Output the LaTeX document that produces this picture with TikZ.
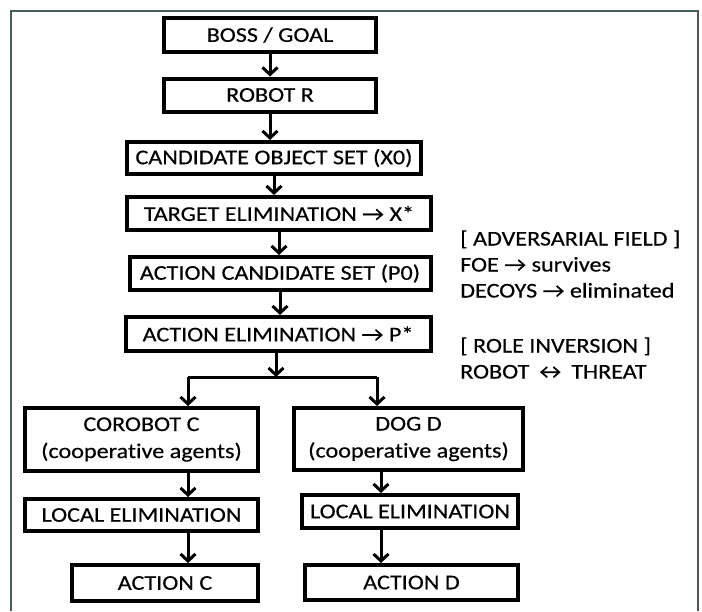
\documentclass[tikz,border=0pt]{standalone}
\usepackage{fontspec}
\setmainfont[FakeStretch=1.15, FakeBold=0.4, Ligatures=CommonOff]{Carlito}
\usetikzlibrary{arrows.meta}
\definecolor{framegray}{RGB}{74,92,86}

\begin{document}
\begin{tikzpicture}[x=1pt, y=-1pt,
	box/.style={draw, line width=4pt, inner sep=0pt, align=center, font=\fontsize{21}{27}\selectfont},
	arr/.style={line width=3pt, -{Straight Barb[length=7pt,width=15pt]}},
	note/.style={anchor=west, align=left, inner sep=0pt, font=\fontsize{21}{26}\selectfont},
	frame/.style={draw=framegray, line width=2pt}]
	\useasboundingbox (0,0) rectangle (702,611);
	\draw[frame] (11,611) -- (11,11) -- (698,11) -- (698,611);

	\node[box, minimum width=212pt, minimum height=34pt] (boss) at (270,35) {BOSS / GOAL};
	\node[box, minimum width=212pt, minimum height=33pt] (robot) at (270,95) {ROBOT R};
	\node[box, minimum width=294pt, minimum height=32pt] (cand) at (274,158) {CANDIDATE OBJECT SET (X0)};
	\node[box, minimum width=304pt, minimum height=33pt] (target) at (279,213.5) {TARGET ELIMINATION → X*};
	\node[box, minimum width=301pt, minimum height=33pt] (acand) at (280,273.5) {ACTION CANDIDATE SET (P0)};
	\node[box, minimum width=305pt, minimum height=34pt] (aelim) at (278,334) {ACTION ELIMINATION → P*};
	\node[box, minimum width=233pt, minimum height=63pt] (corobot) at (141.5,439.5) {COROBOT C\\(cooperative agents)};
	\node[box, minimum width=229pt, minimum height=62pt] (dog) at (408.5,439) {DOG D\\(cooperative agents)};
	\node[box, minimum width=233pt, minimum height=32pt] (localc) at (141.5,515) {LOCAL ELIMINATION};
	\node[box, minimum width=216pt, minimum height=33pt] (locald) at (410,511.5) {LOCAL ELIMINATION};
	\node[box, minimum width=186pt, minimum height=36pt] (actionc) at (165,583) {ACTION C};
	\node[box, minimum width=213pt, minimum height=35pt] (actiond) at (411.5,582.5) {ACTION D};

	\node[note] (adversarial) at (460,264) {[ ADVERSARIAL FIELD ]\\FOE → survives\\DECOYS → eliminated};
	\node[note] (inversion) at (460,358) {[ ROLE INVERSION ]\\ROBOT ↔ THREAT};

	\coordinate (split) at (276,377);
	\coordinate (lanec) at (188,377);
	\coordinate (laned) at (377,377);
	\coordinate (laned2) at (381,377);

	\path[arr] (boss.south) edge (boss.south |- robot.north);
	\path[arr] (robot.south) edge (robot.south |- cand.north);
	\path[arr] (cand.south) edge (cand.south |- target.north);
	\path[arr] (target.south) edge (target.south |- acand.north);
	\path[arr] (acand.south) edge (acand.south |- aelim.north);
	\path[arr] (aelim.south -| split) edge (split);
	\draw[line width=3pt] (lanec) -- (laned);
	\path[arr] (lanec) edge (lanec |- corobot.north);
	\path[arr] (laned) edge (laned |- dog.north);
	\path[arr] (lanec |- corobot.south) edge (lanec |- localc.north);
	\path[arr] (lanec |- localc.south) edge (lanec |- actionc.north);
	\path[arr] (laned2 |- dog.south) edge (laned2 |- locald.north);
	\path[arr] (laned2 |- locald.south) edge (laned2 |- actiond.north);
\end{tikzpicture}
\end{document}
